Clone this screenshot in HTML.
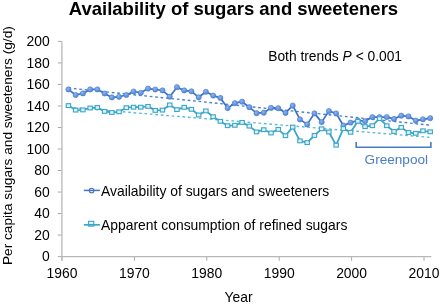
<!DOCTYPE html>
<html><head><meta charset="utf-8"><style>
html,body{margin:0;padding:0;background:#fff;}
body{width:440px;height:304px;overflow:hidden;}
svg{display:block;font-family:"Liberation Sans",sans-serif;filter:blur(0.3px);}
</style></head><body>
<svg width="440" height="304" viewBox="0 0 440 304">
<defs>
<radialGradient id="g1" cx="0.4" cy="0.35" r="0.7">
<stop offset="0" stop-color="#8fb5f0"/><stop offset="1" stop-color="#4a7fd4"/>
</radialGradient>
</defs>
<rect width="440" height="304" fill="#fff"/>
<text x="68.8" y="14.6" font-size="18.5" font-weight="bold" fill="#000">Availability of sugars and sweeteners</text>
<g stroke="#a9a9a9" stroke-width="1" fill="none">
<line x1="57.8" y1="256.60" x2="61.9" y2="256.60"/><line x1="57.8" y1="235.08" x2="61.9" y2="235.08"/><line x1="57.8" y1="213.56" x2="61.9" y2="213.56"/><line x1="57.8" y1="192.04" x2="61.9" y2="192.04"/><line x1="57.8" y1="170.52" x2="61.9" y2="170.52"/><line x1="57.8" y1="149.00" x2="61.9" y2="149.00"/><line x1="57.8" y1="127.48" x2="61.9" y2="127.48"/><line x1="57.8" y1="105.96" x2="61.9" y2="105.96"/><line x1="57.8" y1="84.44" x2="61.9" y2="84.44"/><line x1="57.8" y1="62.92" x2="61.9" y2="62.92"/><line x1="57.8" y1="41.40" x2="61.9" y2="41.40"/>
<line x1="62.00" y1="256.7" x2="62.00" y2="260.8"/><line x1="134.40" y1="256.7" x2="134.40" y2="260.8"/><line x1="206.80" y1="256.7" x2="206.80" y2="260.8"/><line x1="279.20" y1="256.7" x2="279.20" y2="260.8"/><line x1="351.60" y1="256.7" x2="351.60" y2="260.8"/><line x1="424.00" y1="256.7" x2="424.00" y2="260.8"/>
</g>
<g stroke="#b8b8b8" stroke-width="1.3" fill="none">
<line x1="61.9" y1="41.2" x2="61.9" y2="260.8"/>
<line x1="61.9" y1="256.7" x2="431.3" y2="256.7"/>
</g>
<g font-size="13.9" fill="#000">
<text x="49.8" y="261.40" text-anchor="end">0</text><text x="49.8" y="239.88" text-anchor="end">20</text><text x="49.8" y="218.36" text-anchor="end">40</text><text x="49.8" y="196.84" text-anchor="end">60</text><text x="49.8" y="175.32" text-anchor="end">80</text><text x="49.8" y="153.80" text-anchor="end">100</text><text x="49.8" y="132.28" text-anchor="end">120</text><text x="49.8" y="110.76" text-anchor="end">140</text><text x="49.8" y="89.24" text-anchor="end">160</text><text x="49.8" y="67.72" text-anchor="end">180</text><text x="49.8" y="46.20" text-anchor="end">200</text>
<text x="62.00" y="278" text-anchor="middle">1960</text><text x="134.40" y="278" text-anchor="middle">1970</text><text x="206.80" y="278" text-anchor="middle">1980</text><text x="279.20" y="278" text-anchor="middle">1990</text><text x="351.60" y="278" text-anchor="middle">2000</text><text x="424.00" y="278" text-anchor="middle">2010</text>
<text x="224.5" y="302.2">Year</text>
<text x="268.2" y="60.7" font-size="13.8">Both trends <tspan font-style="italic">P</tspan> &lt; 0.001</text>
<text transform="translate(12.2,265.1) rotate(-90)" font-size="13.7">Per capita sugars and sweeteners (g/d)</text>
<text x="101" y="195.5" font-size="13.9">Availability of sugars and sweeteners</text>
<text x="101" y="230.2" font-size="13.9">Apparent consumption of refined sugars</text>
<text x="364.6" y="163.6" font-size="13.6" fill="#4a7cc4">Greenpool</text>
</g>
<!-- trend lines -->
<line x1="68.4" y1="88.0" x2="430.4" y2="125.2" stroke="#4a80d0" stroke-width="1.4" stroke-dasharray="2.7,2.75"/>
<line x1="68.4" y1="107.3" x2="430.4" y2="137.4" stroke="#5bbcd6" stroke-width="1.4" stroke-dasharray="2.7,2.75"/>
<!-- series 1 -->
<polyline points="68.44,89.40 75.67,95.00 82.91,93.40 90.14,89.40 97.38,89.40 104.61,93.50 111.84,97.40 119.08,96.80 126.32,95.00 133.55,91.50 140.79,92.80 148.02,88.60 155.25,89.50 162.49,90.40 169.73,96.70 176.96,87.20 184.19,90.40 191.43,91.30 198.67,97.30 205.90,91.80 213.13,95.60 220.37,97.90 227.61,108.10 234.84,103.20 242.07,101.70 249.31,107.20 256.55,113.20 263.78,112.70 271.01,107.90 278.25,108.20 285.49,112.90 292.72,105.60 299.96,119.40 307.19,124.40 314.43,113.40 321.66,122.10 328.89,111.10 336.13,113.40 343.37,125.50 350.60,122.60 357.83,120.50 365.07,121.20 372.31,117.10 379.54,117.10 386.77,117.10 394.01,118.90 401.25,115.70 408.48,116.40 415.72,120.60 422.95,119.30 430.19,118.20" fill="none" stroke="#3c6fc6" stroke-width="1.7" stroke-linejoin="round"/>
<g fill="url(#g1)" stroke="#4a7fd0" stroke-width="0.6">
<circle cx="68.44" cy="89.40" r="2.6"/>
<circle cx="75.67" cy="95.00" r="2.6"/>
<circle cx="82.91" cy="93.40" r="2.6"/>
<circle cx="90.14" cy="89.40" r="2.6"/>
<circle cx="97.38" cy="89.40" r="2.6"/>
<circle cx="104.61" cy="93.50" r="2.6"/>
<circle cx="111.84" cy="97.40" r="2.6"/>
<circle cx="119.08" cy="96.80" r="2.6"/>
<circle cx="126.32" cy="95.00" r="2.6"/>
<circle cx="133.55" cy="91.50" r="2.6"/>
<circle cx="140.79" cy="92.80" r="2.6"/>
<circle cx="148.02" cy="88.60" r="2.6"/>
<circle cx="155.25" cy="89.50" r="2.6"/>
<circle cx="162.49" cy="90.40" r="2.6"/>
<circle cx="169.73" cy="96.70" r="2.6"/>
<circle cx="176.96" cy="87.20" r="2.6"/>
<circle cx="184.19" cy="90.40" r="2.6"/>
<circle cx="191.43" cy="91.30" r="2.6"/>
<circle cx="198.67" cy="97.30" r="2.6"/>
<circle cx="205.90" cy="91.80" r="2.6"/>
<circle cx="213.13" cy="95.60" r="2.6"/>
<circle cx="220.37" cy="97.90" r="2.6"/>
<circle cx="227.61" cy="108.10" r="2.6"/>
<circle cx="234.84" cy="103.20" r="2.6"/>
<circle cx="242.07" cy="101.70" r="2.6"/>
<circle cx="249.31" cy="107.20" r="2.6"/>
<circle cx="256.55" cy="113.20" r="2.6"/>
<circle cx="263.78" cy="112.70" r="2.6"/>
<circle cx="271.01" cy="107.90" r="2.6"/>
<circle cx="278.25" cy="108.20" r="2.6"/>
<circle cx="285.49" cy="112.90" r="2.6"/>
<circle cx="292.72" cy="105.60" r="2.6"/>
<circle cx="299.96" cy="119.40" r="2.6"/>
<circle cx="307.19" cy="124.40" r="2.6"/>
<circle cx="314.43" cy="113.40" r="2.6"/>
<circle cx="321.66" cy="122.10" r="2.6"/>
<circle cx="328.89" cy="111.10" r="2.6"/>
<circle cx="336.13" cy="113.40" r="2.6"/>
<circle cx="343.37" cy="125.50" r="2.6"/>
<circle cx="350.60" cy="122.60" r="2.6"/>
<circle cx="357.83" cy="120.50" r="2.6"/>
<circle cx="365.07" cy="121.20" r="2.6"/>
<circle cx="372.31" cy="117.10" r="2.6"/>
<circle cx="379.54" cy="117.10" r="2.6"/>
<circle cx="386.77" cy="117.10" r="2.6"/>
<circle cx="394.01" cy="118.90" r="2.6"/>
<circle cx="401.25" cy="115.70" r="2.6"/>
<circle cx="408.48" cy="116.40" r="2.6"/>
<circle cx="415.72" cy="120.60" r="2.6"/>
<circle cx="422.95" cy="119.30" r="2.6"/>
<circle cx="430.19" cy="118.20" r="2.6"/>
</g>
<!-- series 2 -->
<polyline points="68.44,105.60 75.67,110.10 82.91,109.90 90.14,108.00 97.38,107.50 104.61,111.40 111.84,112.50 119.08,111.80 126.32,107.70 133.55,107.20 140.79,107.20 148.02,106.40 155.25,110.40 162.49,110.10 169.73,104.90 176.96,109.60 184.19,107.30 191.43,109.30 198.67,115.00 205.90,110.90 213.13,116.70 220.37,121.30 227.61,125.70 234.84,125.30 242.07,122.40 249.31,126.10 256.55,131.90 263.78,129.70 271.01,133.00 278.25,129.40 285.49,135.70 292.72,127.10 299.96,140.90 307.19,142.60 314.43,135.50 321.66,128.80 328.89,132.00 336.13,145.20 343.37,128.60 350.60,132.30 357.83,121.30 365.07,126.60 372.31,125.70 379.54,118.60 386.77,125.70 394.01,131.50 401.25,127.40 408.48,132.50 415.72,133.30 422.95,130.80 430.19,131.80" fill="none" stroke="#3aa6c8" stroke-width="1.8" stroke-linejoin="round"/>
<g fill="#e2f1f7" stroke="#3aa6c8" stroke-width="1.1">
<rect x="66.23" y="103.70" width="4.4" height="3.8"/>
<rect x="73.47" y="108.20" width="4.4" height="3.8"/>
<rect x="80.70" y="108.00" width="4.4" height="3.8"/>
<rect x="87.94" y="106.10" width="4.4" height="3.8"/>
<rect x="95.17" y="105.60" width="4.4" height="3.8"/>
<rect x="102.41" y="109.50" width="4.4" height="3.8"/>
<rect x="109.64" y="110.60" width="4.4" height="3.8"/>
<rect x="116.88" y="109.90" width="4.4" height="3.8"/>
<rect x="124.12" y="105.80" width="4.4" height="3.8"/>
<rect x="131.35" y="105.30" width="4.4" height="3.8"/>
<rect x="138.59" y="105.30" width="4.4" height="3.8"/>
<rect x="145.82" y="104.50" width="4.4" height="3.8"/>
<rect x="153.06" y="108.50" width="4.4" height="3.8"/>
<rect x="160.29" y="108.20" width="4.4" height="3.8"/>
<rect x="167.53" y="103.00" width="4.4" height="3.8"/>
<rect x="174.76" y="107.70" width="4.4" height="3.8"/>
<rect x="182.00" y="105.40" width="4.4" height="3.8"/>
<rect x="189.23" y="107.40" width="4.4" height="3.8"/>
<rect x="196.47" y="113.10" width="4.4" height="3.8"/>
<rect x="203.70" y="109.00" width="4.4" height="3.8"/>
<rect x="210.94" y="114.80" width="4.4" height="3.8"/>
<rect x="218.17" y="119.40" width="4.4" height="3.8"/>
<rect x="225.41" y="123.80" width="4.4" height="3.8"/>
<rect x="232.64" y="123.40" width="4.4" height="3.8"/>
<rect x="239.88" y="120.50" width="4.4" height="3.8"/>
<rect x="247.11" y="124.20" width="4.4" height="3.8"/>
<rect x="254.35" y="130.00" width="4.4" height="3.8"/>
<rect x="261.58" y="127.80" width="4.4" height="3.8"/>
<rect x="268.81" y="131.10" width="4.4" height="3.8"/>
<rect x="276.05" y="127.50" width="4.4" height="3.8"/>
<rect x="283.29" y="133.80" width="4.4" height="3.8"/>
<rect x="290.52" y="125.20" width="4.4" height="3.8"/>
<rect x="297.76" y="139.00" width="4.4" height="3.8"/>
<rect x="304.99" y="140.70" width="4.4" height="3.8"/>
<rect x="312.23" y="133.60" width="4.4" height="3.8"/>
<rect x="319.46" y="126.90" width="4.4" height="3.8"/>
<rect x="326.69" y="130.10" width="4.4" height="3.8"/>
<rect x="333.93" y="143.30" width="4.4" height="3.8"/>
<rect x="341.17" y="126.70" width="4.4" height="3.8"/>
<rect x="348.40" y="130.40" width="4.4" height="3.8"/>
<rect x="355.63" y="119.40" width="4.4" height="3.8"/>
<rect x="362.87" y="124.70" width="4.4" height="3.8"/>
<rect x="370.11" y="123.80" width="4.4" height="3.8"/>
<rect x="377.34" y="116.70" width="4.4" height="3.8"/>
<rect x="384.57" y="123.80" width="4.4" height="3.8"/>
<rect x="391.81" y="129.60" width="4.4" height="3.8"/>
<rect x="399.05" y="125.50" width="4.4" height="3.8"/>
<rect x="406.28" y="130.60" width="4.4" height="3.8"/>
<rect x="413.52" y="131.40" width="4.4" height="3.8"/>
<rect x="420.75" y="128.90" width="4.4" height="3.8"/>
<rect x="427.99" y="129.90" width="4.4" height="3.8"/>
</g>
<!-- bracket -->
<polyline points="356.2,142 356.2,147.2 430.9,147.2 430.9,142" fill="none" stroke="#4a7cc4" stroke-width="1.6"/>
<!-- legend -->
<circle cx="91.6" cy="190.5" r="2.3" fill="#fff" stroke="#4472c4" stroke-width="1.1"/>
<line x1="83.8" y1="190.4" x2="99.9" y2="190.4" stroke="#4472c4" stroke-width="1.5"/>
<rect x="88.6" y="221.3" width="5.2" height="4.8" fill="#e8f5fa" stroke="#3aa6c8" stroke-width="1.1"/>
<line x1="83.8" y1="224.8" x2="99.9" y2="224.8" stroke="#3aa6c8" stroke-width="1.7"/>
</svg>
</body></html>
